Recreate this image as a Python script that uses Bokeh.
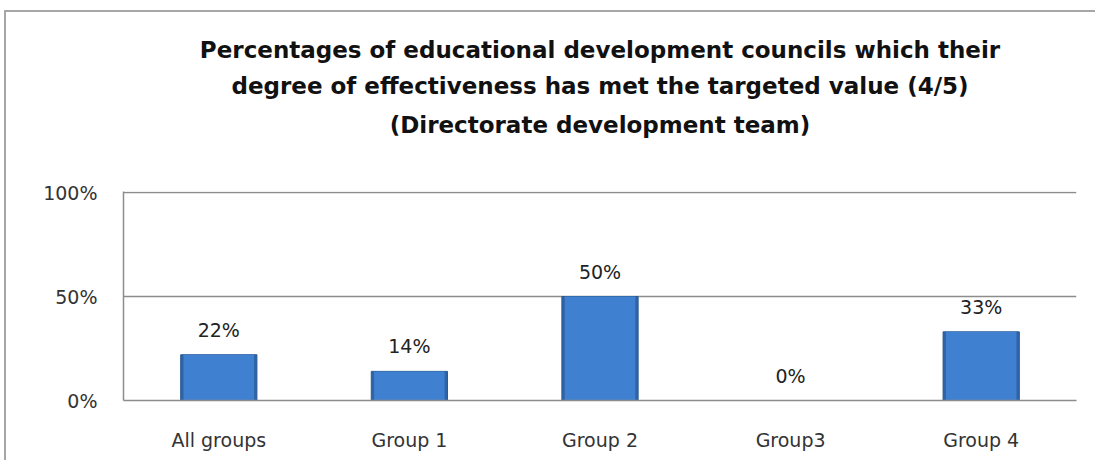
from bokeh.plotting import figure
from bokeh.models import FixedTicker, LabelSet, ColumnDataSource, NumeralTickFormatter, Title
from bokeh.core.properties import value
from bokeh.embed import file_html
from bokeh.resources import INLINE

categories = ["All groups", "Group 1", "Group 2", "Group3", "Group 4"]
values = [0.22, 0.14, 0.50, 0.00, 0.33]
labels = ["22%", "14%", "50%", "0%", "33%"]
y_ticks = [0, 0.5, 1.0]

title_lines = ["Percentages of educational development councils which their",
               "degree of effectiveness has met the targeted value (4/5)",
               "(Directorate development team)"]

FONT = "DejaVu Sans"

src = ColumnDataSource(dict(cat=categories, val=values, lab=labels))

p = figure(width=1091, height=450, x_range=categories, y_range=(0, 1.005),
           output_backend="svg", toolbar_location=None,
           min_border_left=117, min_border_right=21, min_border_top=179, min_border_bottom=62)
p.styles = {"margin-left": "4px", "margin-top": "10px",
            "border-left": "2px solid #a6a6a6", "border-top": "2px solid #a6a6a6"}

p.title.visible = False
# blank spacer between frame and title block
p.add_layout(Title(text=" ", standoff=35, text_font_size="10px"), "above")
for line, s in zip(reversed(title_lines), [11, 11, 5]):
    t = Title(text=line, align="center", text_font=FONT, text_font_style="bold",
              text_font_size="23px", text_color="#111111", standoff=s)
    p.add_layout(t, "above")

p.vbar(x="cat", top="val", width=0.4, source=src, fill_color="#2f64a8",
       line_color="#2a5891", line_width=1)
p.vbar(x="cat", top="val", width=0.37, source=src, fill_color="#3f80d0",
       line_color=None)

p.add_layout(LabelSet(x="cat", y="val", text="lab", source=src, y_offset=14,
                      text_align="center", text_baseline="bottom",
                      text_font=value(FONT), text_font_size="19px", text_color="#222222"))

p.outline_line_color = None
p.xgrid.grid_line_color = None
p.ygrid.ticker = FixedTicker(ticks=y_ticks)
p.ygrid.grid_line_color = "#8c8c8c"
p.ygrid.grid_line_width = 1.5

p.yaxis.ticker = FixedTicker(ticks=y_ticks)
p.yaxis.formatter = NumeralTickFormatter(format="0%")
p.yaxis.major_tick_line_color = None
p.yaxis.minor_tick_line_color = None
p.yaxis.axis_line_color = "#8c8c8c"
p.yaxis.axis_line_width = 1.5
p.yaxis.major_label_standoff = 20
p.yaxis.major_label_text_font = FONT
p.yaxis.major_label_text_font_size = "19px"
p.yaxis.major_label_text_color = "#333333"

p.xaxis.major_tick_line_color = None
p.xaxis.minor_tick_line_color = None
p.xaxis.axis_line_color = "#8c8c8c"
p.xaxis.axis_line_width = 1.5
p.xaxis.major_label_standoff = 22
p.xaxis.major_label_text_font = FONT
p.xaxis.major_label_text_font_size = "19px"
p.xaxis.major_label_text_color = "#333333"

open("out.html", "w").write(file_html(p, INLINE))
